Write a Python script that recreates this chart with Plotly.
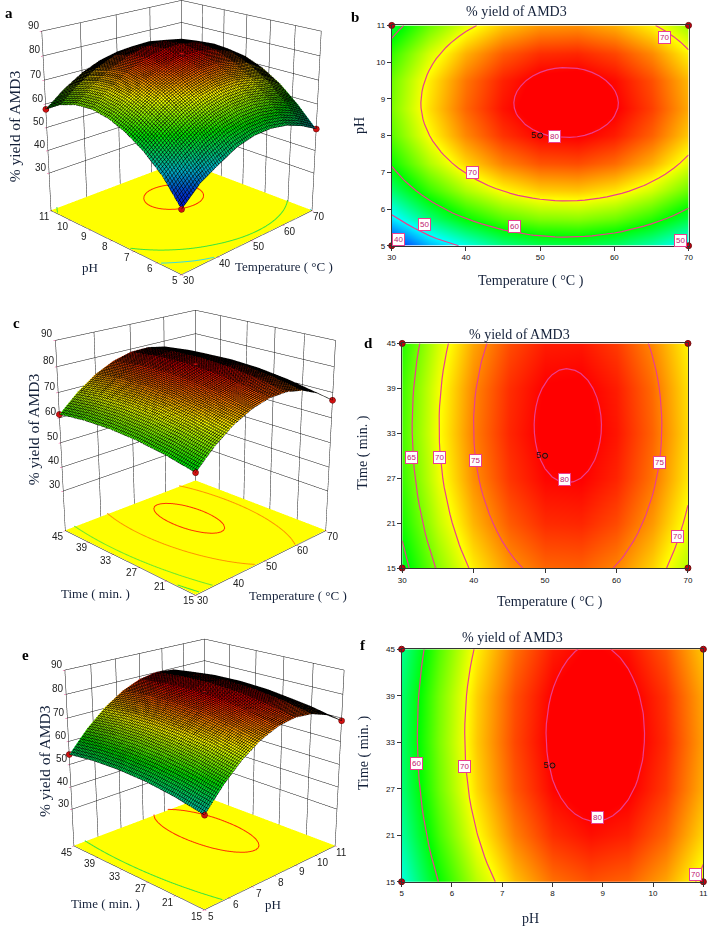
import plotly.graph_objects as go

W, H = 712, 929
OFF = 280          # page area scrolled above the window, room for the tall 3D viewports
FIG_H = 1452

# ---- data ----
temperature = [30, 35, 40, 45, 50, 55, 60, 65, 70]
ph = [5, 5.75, 6.5, 7.25, 8, 8.75, 9.5, 10.25, 11]
time_min = [15, 21, 27, 33, 39, 45]

yield_temp_ph = [
    [39.2, 46.4, 50.8, 54.8, 56.8, 57.1, 55.9, 53.2, 49.4],
    [49.0, 55.3, 60.1, 63.4, 65.2, 65.5, 64.3, 61.6, 57.4],
    [55.7, 62.0, 66.8, 70.1, 71.9, 72.2, 71.0, 68.3, 64.1],
    [60.5, 66.8, 71.6, 74.9, 76.7, 77.0, 75.8, 73.1, 68.9],
    [63.6, 69.9, 74.7, 78.0, 79.8, 80.1, 78.9, 76.2, 72.0],
    [64.9, 71.2, 76.0, 79.3, 81.1, 81.4, 80.2, 77.5, 73.3],
    [64.3, 70.6, 75.4, 78.7, 80.5, 80.8, 79.6, 76.9, 72.7],
    [62.0, 68.3, 73.1, 76.4, 78.2, 78.5, 77.3, 74.6, 70.4],
    [57.8, 64.1, 68.9, 72.2, 74.0, 74.3, 73.1, 70.4, 66.2],
]
yield_temp_time = [
    [58.5, 65.4, 70.6, 74.1, 76.0, 76.2, 74.8, 71.7, 67.0],
    [60.8, 67.7, 72.9, 76.4, 78.3, 78.5, 77.1, 74.0, 69.3],
    [62.3, 69.2, 74.4, 77.9, 79.8, 80.0, 78.6, 75.5, 70.8],
    [62.9, 69.8, 75.0, 78.5, 80.4, 80.6, 79.2, 76.1, 71.4],
    [62.6, 69.5, 74.7, 78.2, 80.1, 80.3, 78.9, 75.8, 71.1],
    [61.4, 68.3, 73.5, 77.0, 78.9, 79.1, 77.7, 74.6, 70.3],
]
yield_ph_time = [
    [51.2, 60.2, 67.3, 72.4, 75.6, 76.8, 76.1, 73.5, 68.9],
    [53.8, 62.8, 69.9, 75.0, 78.2, 79.4, 78.7, 76.1, 71.5],
    [55.4, 64.4, 71.5, 76.6, 79.8, 81.0, 80.3, 77.7, 73.1],
    [56.0, 65.0, 72.1, 77.2, 80.4, 81.6, 80.9, 78.3, 73.7],
    [55.7, 64.7, 71.8, 76.9, 80.1, 81.3, 80.6, 78.0, 73.4],
    [54.4, 63.4, 70.5, 75.6, 78.9, 80.2, 79.4, 76.7, 72.1],
]
temp_ticks = [30, 40, 50, 60, 70]
ph_ticks = [5, 6, 7, 8, 9, 10, 11]
time_ticks = [15, 21, 27, 33, 39, 45]
yield_ticks = [30, 40, 50, 60, 70, 80, 90]
title_text = "% yield of AMD3"
temp_title = "Temperature ( °C )"
time_title = "Time ( min. )"
ph_title = "pH"

labels_b = [(66.7, 10.67, "70"), (40.9, 7.0, "70"), (51.9, 7.97, "80"), (46.5, 5.53, "60"),
            (34.4, 5.58, "50"), (30.9, 5.17, "40"), (68.9, 5.15, "50")]
labels_d = [(31.3, 29.8, "65"), (35.2, 29.8, "70"), (40.2, 29.4, "75"), (52.7, 26.8, "80"),
            (66, 29.1, "75"), (68.6, 19.2, "70")]
labels_f = [(5.29, 30.2, "60"), (6.26, 29.9, "70"), (8.89, 23.3, "80"), (10.84, 16, "70")]

# ---- styling ----
ZMIN, ZMAX = 38, 82
def n(v):
    return (v - ZMIN) / (ZMAX - ZMIN)
stops = [(0, (0, 0, 255)), (n(50), (0, 255, 255)), (n(60), (0, 255, 0)),
         (n(70), (255, 255, 0)), (n(80), (255, 0, 0)), (1, (255, 0, 0))]
scale = [[p, f"rgb{c}"] for p, c in stops]
surface_stops = [(0, (0, 0, 210)), (n(44), (0, 60, 200)), (n(50), (0, 170, 190)), (n(60), (0, 225, 0)),
                 (n(70), (255, 255, 0)), (n(80), (255, 0, 0)), (1, (255, 0, 0))]
surface_scale = [[p, f"rgb{c}"] for p, c in surface_stops]
SERIF = "Liberation Serif"
SANS = "Liberation Sans"
TXT = "#14213a"
PINK = "#ea3f8e"
FLOOR_Z = 13
TOP_Z = 90
YELLOW = "rgb(255,255,0)"

def py(y):
    return 1 - (y + OFF) / FIG_H


def refine(values, factor=5):
    """Catmull-Rom resampling of one grid line, only used to round the drawn contour lines."""
    v = [3 * values[0] - 3 * values[1] + values[2]] + list(values) + [3 * values[-1] - 3 * values[-2] + values[-3]]
    out = []
    for i in range(1, len(v) - 2):
        p0, p1, p2, p3 = v[i - 1], v[i], v[i + 1], v[i + 2]
        for k in range(factor):
            t = k / factor
            out.append(0.5 * (2 * p1 + (p2 - p0) * t + (2 * p0 - 5 * p1 + 4 * p2 - p3) * t * t
                              + (3 * p1 - p0 - 3 * p2 + p3) * t ** 3))
    out.append(values[-1])
    return out


def iso_lines(xs, ys, zs, level):
    """Contour polylines of a grid by marching squares on a rounded version of that grid."""
    rows = [refine(r) for r in zs]
    cols = [refine([rows[j][i] for j in range(len(rows))]) for i in range(len(rows[0]))]
    zf = [[cols[i][j] for i in range(len(cols))] for j in range(len(cols[0]))]
    xf, yf = refine(xs), refine(ys)
    adj = {}
    def key(p):
        return (round(p[0], 6), round(p[1], 6))
    def link(a, b):
        ka, kb = key(a), key(b)
        if ka == kb:
            return
        adj.setdefault(ka, []).append(kb)
        adj.setdefault(kb, []).append(ka)
    for j in range(len(yf) - 1):
        for i in range(len(xf) - 1):
            c = [(xf[i], yf[j], zf[j][i]), (xf[i + 1], yf[j], zf[j][i + 1]),
                 (xf[i + 1], yf[j + 1], zf[j + 1][i + 1]), (xf[i], yf[j + 1], zf[j + 1][i])]
            pts = []
            for k in range(4):
                a, b = c[k], c[(k + 1) % 4]
                if (a[2] < level) != (b[2] < level):
                    t = (level - a[2]) / (b[2] - a[2])
                    pts.append((a[0] + t * (b[0] - a[0]), a[1] + t * (b[1] - a[1])))
            if len(pts) == 2:
                link(pts[0], pts[1])
            elif len(pts) == 4:
                link(pts[0], pts[1])
                link(pts[2], pts[3])
    lines = []
    seen = set()
    starts = [k for k, v in adj.items() if len(v) == 1] + list(adj)
    for s in starts:
        if s in seen:
            continue
        line = [s]
        seen.add(s)
        cur = s
        while True:
            nxt = [q for q in adj[cur] if q not in seen]
            if not nxt:
                break
            cur = nxt[0]
            seen.add(cur)
            line.append(cur)
        if len(line) > 2 and s in adj[cur]:
            line.append(s)
        lines.append(line)
    return lines


fig = go.Figure()
ann = []
layout = {}

def text(x, y, s, size=14, angle=0, bold=False, color=TXT, font=SERIF):
    ann.append(dict(x=x / W, y=py(y), xref="paper", yref="paper", text=f"<b>{s}</b>" if bold else s,
                    showarrow=False, textangle=angle, font=dict(size=size, family=font, color=color),
                    xanchor="center", yanchor="middle"))

def surface_panel(idx, box, eye, zasp, xs, ys, zs, xt, yt, levels, center):
    sid = f"scene{idx}"
    flat = dict(ambient=1, diffuse=0, specular=0, fresnel=0)
    fig.add_trace(go.Surface(x=xs, y=ys, z=[[FLOOR_Z + 0.2] * len(xs) for _ in ys], surfacecolor=zs,
                             colorscale=[[0, YELLOW], [1, YELLOW]], cmin=ZMIN, cmax=ZMAX, lighting=flat,
                             showscale=False, scene=sid, hoverinfo="skip"))
    for lv, col in levels:
        lx, ly, lz = [], [], []
        for line in iso_lines(xs, ys, zs, lv):
            lx += [p[0] for p in line] + [None]
            ly += [p[1] for p in line] + [None]
            lz += [FLOOR_Z + 0.6] * len(line) + [None]
        fig.add_trace(go.Scatter3d(x=lx, y=ly, z=lz, mode="lines", line=dict(color=col, width=2), scene=sid,
                                   hoverinfo="skip", showlegend=False))
    dx = (xs[-1] - xs[0]) / 80
    dy = (ys[-1] - ys[0]) / 80
    fig.add_trace(go.Surface(x=xs, y=ys, z=zs, colorscale=surface_scale, cmin=ZMIN, cmax=ZMAX, showscale=False,
                             scene=sid, hoverinfo="skip",
                             lighting=dict(ambient=0.25, diffuse=0.9, specular=0, roughness=1, fresnel=0),
                             lightposition=dict(x=eye[0] * 2000, y=eye[1] * 2000, z=eye[2] * 2000),
                             contours=dict(
                                 x=dict(show=True, start=xs[0], end=xs[-1], size=dx, color="#000000", width=1),
                                 y=dict(show=True, start=ys[0], end=ys[-1], size=dy, color="#000000", width=1))))
    cx = [xs[0], xs[-1], xs[0], xs[-1], center[0]]
    cy = [ys[0], ys[0], ys[-1], ys[-1], center[1]]
    cv = [zs[0][0], zs[0][-1], zs[-1][0], zs[-1][-1], center[2]]
    fig.add_trace(go.Scatter3d(x=cx, y=cy, z=cv, mode="markers", scene=sid, hoverinfo="skip", showlegend=False,
                               marker=dict(size=3.5, color="#d01010", line=dict(color="#600000", width=1))))
    ax = dict(showbackground=False, showgrid=True, gridcolor="#111111", gridwidth=1, zeroline=False,
              showline=True, linecolor="#111111", linewidth=1, showspikes=False, title=dict(text=""),
              ticks="outside", ticklen=2, tickcolor=PINK, showticklabels=False)
    tick_font = dict(family=SANS, size=10, color="#222222")
    marks = []
    for v in xt:
        marks.append(dict(x=v, y=ys[0], z=FLOOR_Z, text=str(v), xshift=7, yshift=-6))
    for v in yt:
        marks.append(dict(x=xs[0], y=v, z=FLOOR_Z, text=str(v), xshift=-7, yshift=-6))
    for v in yield_ticks:
        marks.append(dict(x=xs[0], y=ys[-1], z=v, text=str(v), xshift=-8, yshift=6))
    for m in marks:
        m.update(showarrow=False, font=tick_font, xanchor="center", yanchor="middle")
    layout[sid] = dict(
        domain=dict(x=[box[0] / W, box[2] / W], y=[py(box[3]), py(box[1])]),
        aspectmode="manual", aspectratio=dict(x=1, y=1, z=zasp),
        camera=dict(eye=dict(x=eye[0], y=eye[1], z=eye[2]), center=dict(x=0, y=0, z=0), up=dict(x=0, y=0, z=1)),
        xaxis=dict(ax, range=[xs[0], xs[-1]], tickvals=xt),
        yaxis=dict(ax, range=[ys[0], ys[-1]], tickvals=yt),
        zaxis=dict(ax, range=[FLOOR_Z, TOP_Z], tickvals=yield_ticks),
        annotations=marks,
    )

def contour_panel(idx, box, xs, ys, zs, xt, yt, levels, labels, center):
    xa, ya = f"xaxis{idx}", f"yaxis{idx}"
    xr, yr = f"x{idx}", f"y{idx}"
    fig.add_trace(go.Heatmap(x=xs, y=ys, z=zs, colorscale=scale, zmin=ZMIN, zmax=ZMAX, zsmooth="best",
                             showscale=False, xaxis=xr, yaxis=yr, hoverinfo="skip"))
    for lv in levels:
        lx, ly = [], []
        for line in iso_lines(xs, ys, zs, lv):
            lx += [p[0] for p in line] + [None]
            ly += [p[1] for p in line] + [None]
        fig.add_trace(go.Scatter(x=lx, y=ly, mode="lines", line=dict(color=PINK, width=1.2), xaxis=xr, yaxis=yr,
                                 hoverinfo="skip", showlegend=False))
    fig.add_trace(go.Scatter(x=[xs[0], xs[-1], xs[0], xs[-1]], y=[ys[0], ys[0], ys[-1], ys[-1]], mode="markers",
                             xaxis=xr, yaxis=yr, cliponaxis=False, hoverinfo="skip", showlegend=False,
                             marker=dict(size=6, color="#c00010", line=dict(color="#701010", width=1))))
    fig.add_trace(go.Scatter(x=[center[0]], y=[center[1]], mode="markers+text", text=["5"], textposition="middle left",
                             textfont=dict(size=9, family=SANS, color="#111111"), xaxis=xr, yaxis=yr,
                             hoverinfo="skip", showlegend=False,
                             marker=dict(size=5, color="rgba(200,30,30,0.6)", line=dict(color="#111111", width=1))))
    ax = dict(showgrid=False, zeroline=False, showline=True, linecolor="#333333", linewidth=1, mirror=True,
              ticks="outside", ticklen=4, tickcolor="#333333", tickwidth=1,
              tickfont=dict(family=SANS, size=8, color="#111111"), tickprefix="<b>", ticksuffix="</b>")
    layout[xa] = dict(ax, domain=[box[0] / W, box[2] / W], range=[xs[0], xs[-1]], tickvals=xt, anchor=yr)
    layout[ya] = dict(ax, domain=[py(box[3]), py(box[1])], range=[ys[0], ys[-1]], tickvals=yt, anchor=xr)
    for x, y, s in labels:
        ann.append(dict(x=x, y=y, xref=xr, yref=yr, text=s, showarrow=False, bgcolor="white",
                        bordercolor=PINK, borderwidth=1, borderpad=1,
                        font=dict(size=8, family=SANS, color="#c02070")))

EYE = (-3.32, -3.32, 1.71)
surface_panel(1, (0, -275, 360, 520), EYE, 1.0, temperature, ph, yield_temp_ph, temp_ticks, ph_ticks,
              [(80, "rgb(255,50,0)"), (60, "rgb(60,230,60)"), (50, "rgb(60,220,220)")], (50, 8, 80.2))
surface_panel(2, (0, 41.5, 388, 836.5), EYE, 1.06, temperature, time_min, yield_temp_time, temp_ticks, time_ticks,
              [(80, "rgb(255,50,0)"), (75, "rgb(255,150,0)"), (65, "rgb(110,235,40)"), (60, "rgb(60,230,60)")], (50, 30, 80.2))
surface_panel(3, (0, 366.5, 406, 1161.5), EYE, 0.98, ph, time_min, yield_ph_time, ph_ticks, time_ticks,
              [(80, "rgb(255,50,0)"), (60, "rgb(60,230,60)")], (8, 30, 80.2))

contour_panel(4, (392.7, 23.3, 693.3, 245), temperature, ph, yield_temp_ph, temp_ticks, ph_ticks, (40, 50, 60, 70, 80), labels_b, (50, 8))
contour_panel(5, (403.3, 343.3, 692.7, 569.3), temperature, time_min, yield_temp_time, temp_ticks, time_ticks, (60, 65, 70, 75, 80), labels_d, (50, 30))
contour_panel(6, (402.7, 651, 708.3, 885), ph, time_min, yield_ph_time, ph_ticks, time_ticks, (60, 70, 80), labels_f, (8, 30))

for x, y, s in [(5, 11, "a"), (355, 15, "b"), (13, 323, "c"), (369, 343, "d"), (22, 657, "e"), (364, 647, "f")]:
    text(x, y, s, size=15, bold=True, color="#000000")
for x, y in [(519, 9), (522, 334), (515, 639)]:
    text(x, y, title_text)
text(534, 280, temp_title); text(360, 124, ph_title, angle=-90)
text(553, 603, temp_title); text(364, 453, time_title, angle=-90)
text(533, 922, ph_title); text(364, 755, time_title, angle=-90)
text(11, 125, title_text, size=15.5, angle=-90); text(87, 267, ph_title, size=13); text(284, 266, temp_title, size=13)
text(30, 430, title_text, size=15.5, angle=-90); text(93, 595, time_title, size=13); text(298, 597, temp_title, size=13)
text(41, 763, title_text, size=15.5, angle=-90); text(103, 907, time_title, size=13); text(272, 908, ph_title, size=13)

fig.update_layout(width=W, height=FIG_H, margin=dict(l=0, r=0, t=0, b=0), paper_bgcolor="white", plot_bgcolor="white",
                  showlegend=False, annotations=ann, **layout)
fig.write_html("out.html", config={"displayModeBar": False},
               post_script=f"document.body.style.margin='-{OFF}px 0 0 0';document.documentElement.style.overflow='hidden';")
